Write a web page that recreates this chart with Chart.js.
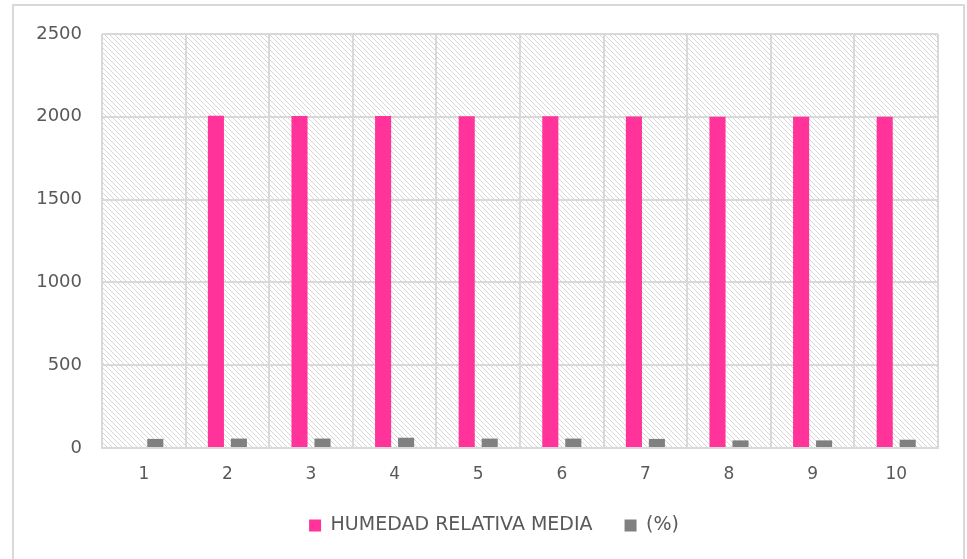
<!DOCTYPE html>
<html>
<head>
<meta charset="utf-8">
<script src="https://cdn.jsdelivr.net/npm/chart.js@4/dist/chart.umd.min.js"></script>
<style>
  html, body { margin: 0; padding: 0; background: #fff; }
  #wrap { position: relative; width: 967px; height: 559px; }
  #frame { position: absolute; left: 12px; top: 4px; width: 949px; height: 560px;
           border: 2px solid #d9d9d9; border-bottom: none; pointer-events: none; }
</style>
</head>
<body>
<div id="wrap">
  <canvas id="chart" width="967" height="559"></canvas>
  <div id="frame"></div>
</div>
<script>
const labels = ['1', '2', '3', '4', '5', '6', '7', '8', '9', '10'];
const humedad = [0, 2006, 2005, 2005, 2004, 2004, 2002, 2000, 2000, 2000];
const porcentaje = [55, 57, 57, 62, 57, 57, 55, 46, 46, 50];

const fontFamily = '"DejaVu Sans", sans-serif';
const textColor = '#595959';
const gridColor = '#d9d9d9';

// hatch pattern for the plot area
function makeHatch() {
  const c = document.createElement('canvas');
  c.width = 5; c.height = 5;
  const g = c.getContext('2d');
  g.fillStyle = '#fff';
  g.fillRect(0, 0, 5, 5);
  g.fillStyle = '#d6d6d6';
  for (let i = 0; i < 5; i++) g.fillRect(i, i, 1, 1);
  return g.createPattern(c, 'repeat');
}

const hatchBg = {
  id: 'hatchBg',
  beforeDraw(chart) {
    const { ctx, chartArea: a } = chart;
    ctx.save();
    ctx.fillStyle = makeHatch();
    ctx.fillRect(a.left, a.top, a.right - a.left, a.bottom - a.top);
    ctx.restore();
  }
};

// legend is centred on the whole frame, not on the plot
const legendShift = {
  id: 'legendShift',
  afterLayout(chart) {
    chart.legend.left += 15;
    chart.legend.right += 15;
  }
};

new Chart(document.getElementById('chart'), {
  type: 'bar',
  data: {
    labels: labels,
    datasets: [
      { label: 'HUMEDAD RELATIVA MEDIA', data: humedad, backgroundColor: '#ff3399' },
      { label: '(%)', data: porcentaje, backgroundColor: '#808080' }
    ]
  },
  options: {
    responsive: false,
    animation: false,
    categoryPercentage: 0.55,
    barPercentage: 0.7,
    layout: { padding: { left: 20, right: 29, top: 34, bottom: 14 } },
    scales: {
      x: {
        grid: { color: gridColor, lineWidth: 2, offset: true, drawTicks: false },
        border: { color: gridColor, width: 2 },
        ticks: { color: textColor, font: { family: fontFamily, size: 17 }, padding: 16 },
        afterFit(s) { s.height = 36; }
      },
      y: {
        min: 0, max: 2500,
        grid: { color: gridColor, lineWidth: 2, drawTicks: false },
        border: { display: false },
        ticks: {
          stepSize: 500, color: textColor, font: { family: fontFamily, size: 18 }, padding: 20,
          callback: v => String(v)
        },
        afterFit(s) { s.width = 82; }
      }
    },
    plugins: {
      legend: {
        position: 'bottom',
        labels: {
          color: textColor,
          font: { family: fontFamily, size: 19 },
          boxWidth: 12, boxHeight: 12, padding: 32
        }
      },
      tooltip: { enabled: false }
    }
  },
  plugins: [hatchBg, legendShift]
});
</script>
</body>
</html>
